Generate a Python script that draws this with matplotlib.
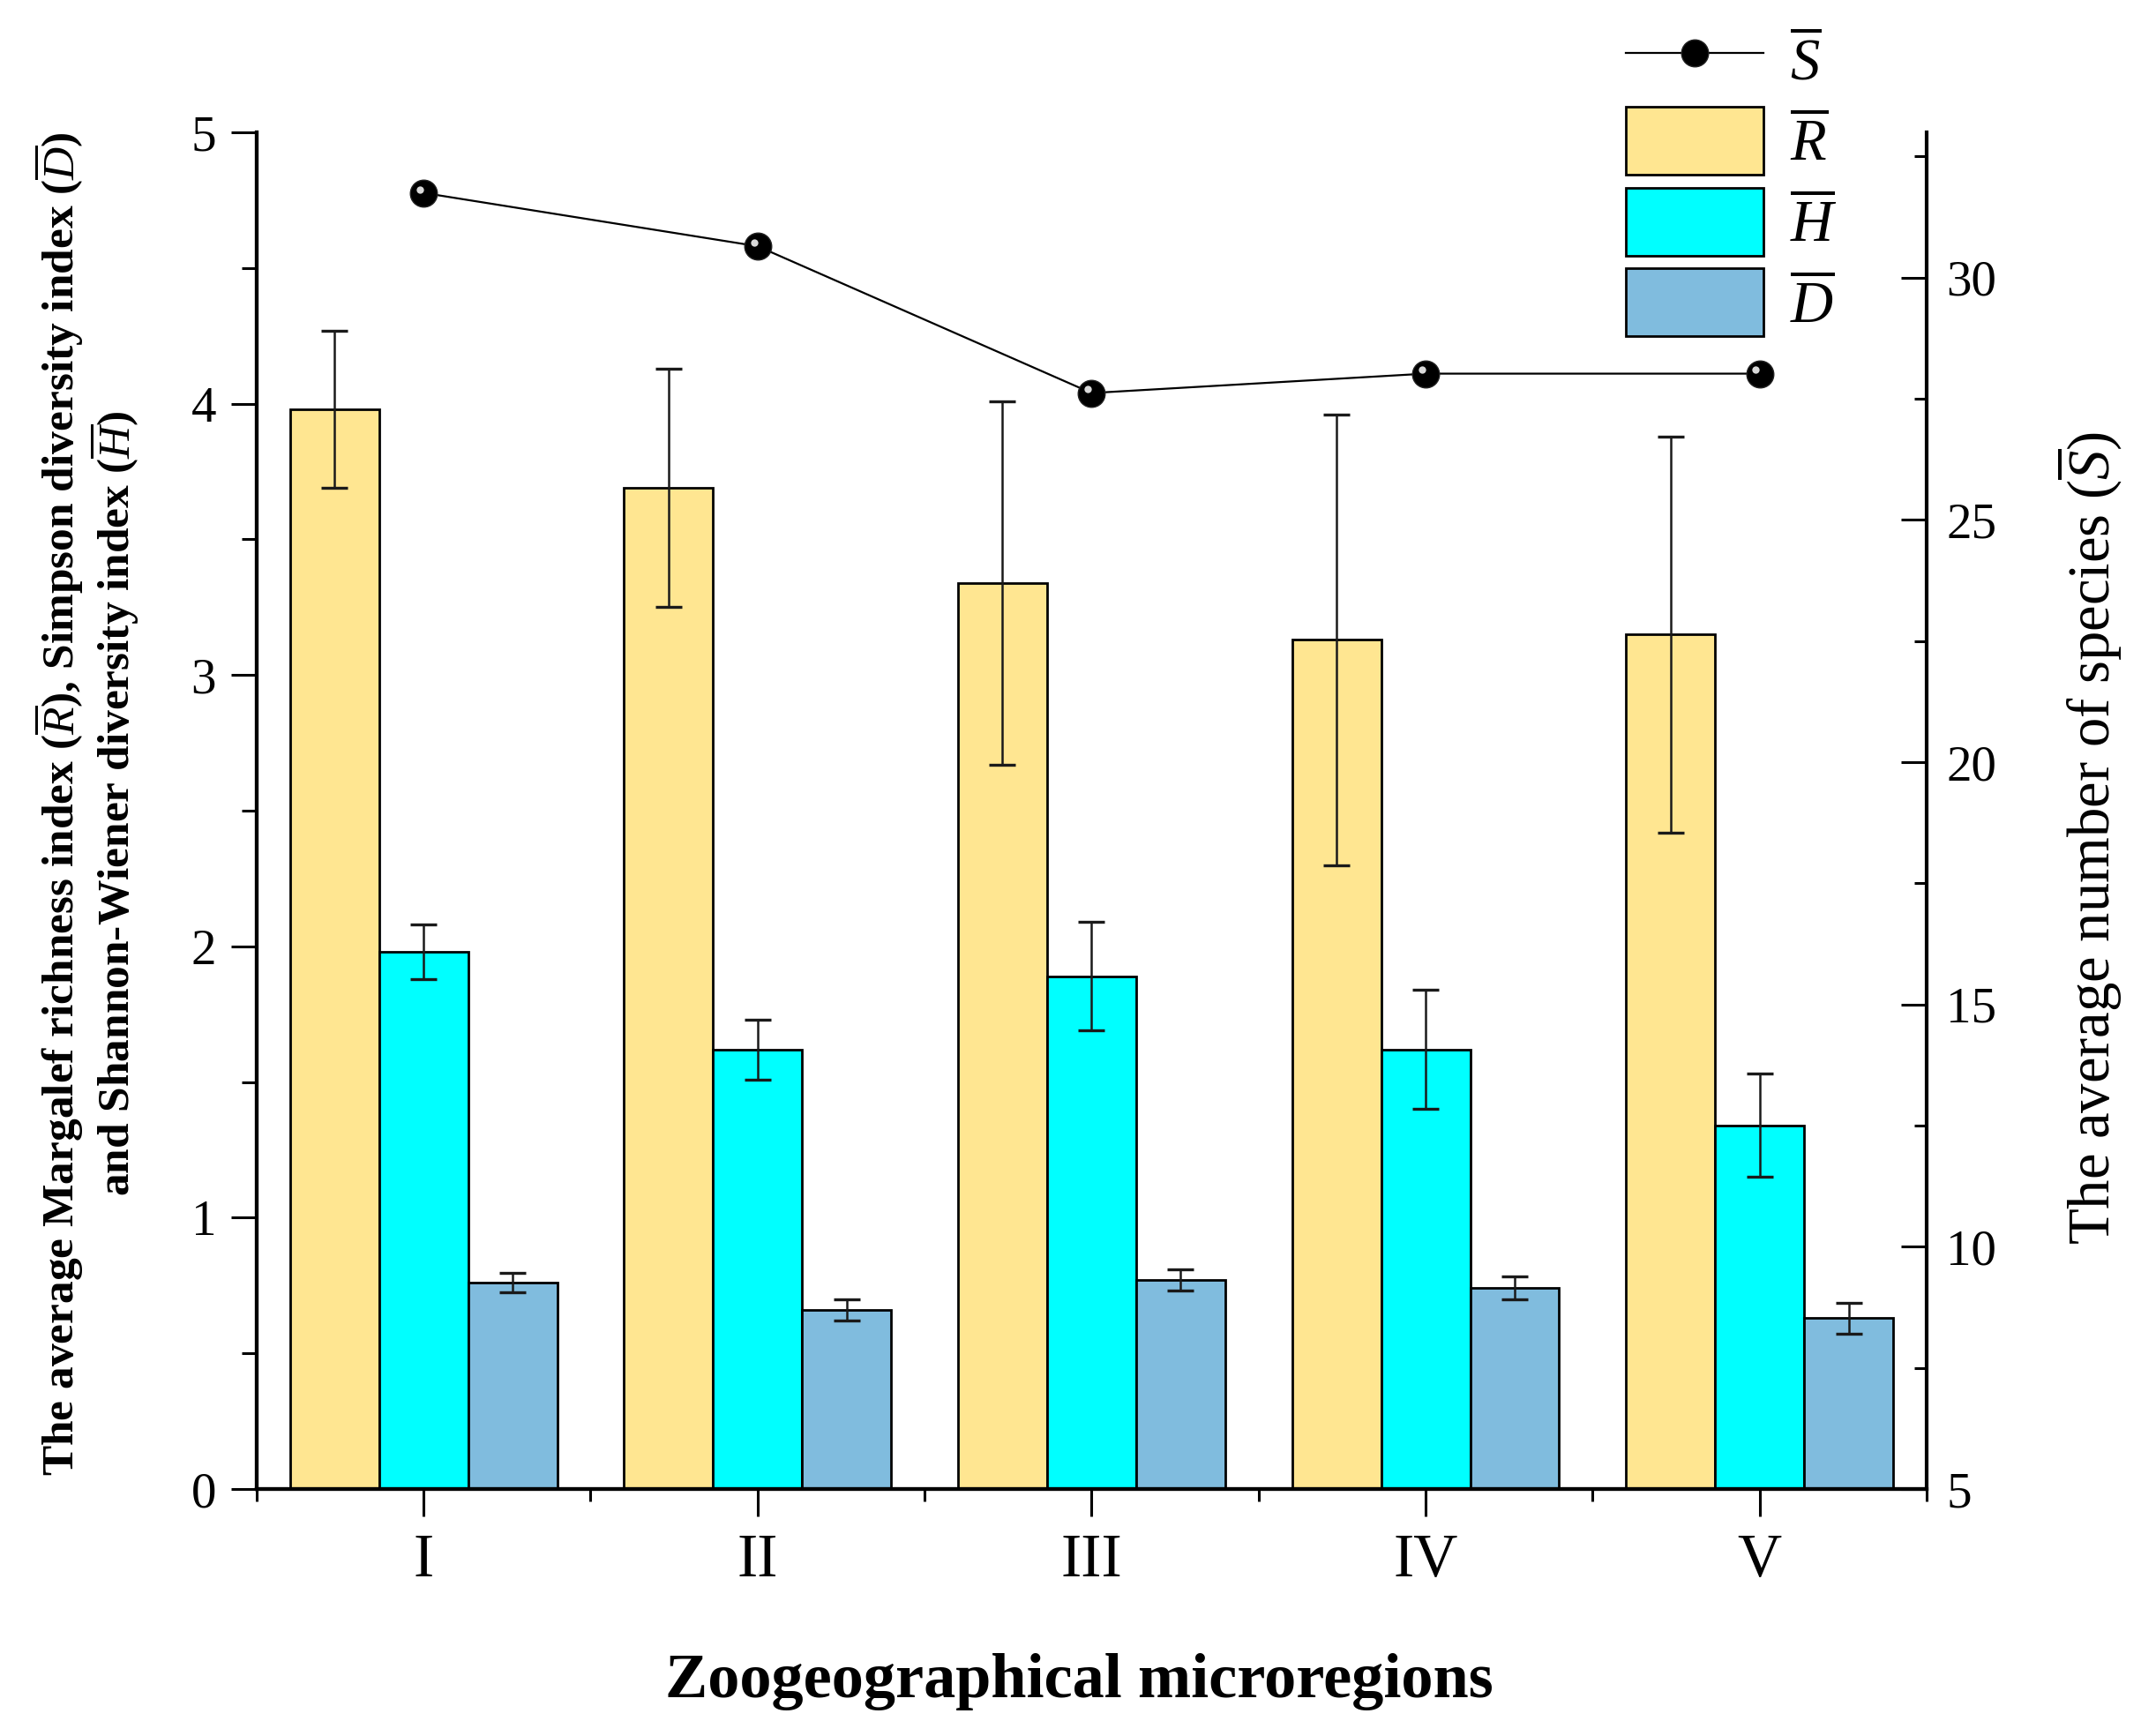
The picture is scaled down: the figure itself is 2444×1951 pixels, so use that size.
import matplotlib
matplotlib.use("Agg")
import matplotlib.pyplot as plt
from matplotlib.ticker import MultipleLocator, FixedLocator
from matplotlib.transforms import offset_copy
import numpy as np

plt.rcParams['font.family'] = ['Liberation Serif', 'DejaVu Serif']
plt.rcParams['mathtext.fontset'] = 'custom'
plt.rcParams['mathtext.rm'] = 'Liberation Serif'
plt.rcParams['mathtext.it'] = 'Liberation Serif:italic'
plt.rcParams['mathtext.bf'] = 'Liberation Serif:bold'

# ---------------- data ----------------
regions = ['I', 'II', 'III', 'IV', 'V']
R_mean = [3.98, 3.69, 3.34, 3.13, 3.15]
R_err = [0.29, 0.44, 0.67, 0.83, 0.73]
H_mean = [1.98, 1.62, 1.89, 1.62, 1.34]
H_err = [0.10, 0.11, 0.20, 0.22, 0.19]
D_mean = [0.76, 0.66, 0.77, 0.74, 0.63]
D_err = [0.035, 0.04, 0.038, 0.042, 0.057]
S_mean = [31.75, 30.65, 27.62, 28.02, 28.02]

series_labels = ['$\\overline{R}$', '$\\overline{H}$', '$\\overline{D}$']
S_label = '$\\overline{S}$'
colors = ['#FFE691', '#00FFFF', '#80BCDE']

# ---------------- figure ----------------
fig = plt.figure(figsize=(24.44, 19.51), dpi=100)
ax = fig.add_axes([0.119, 0.1348, 0.7746, 0.7883])
ax2 = ax.twinx()

x = np.arange(1, len(regions) + 1)
w = 0.8 / 3
offsets = [-w, 0, w]
bar_handles = []
for vals, errs, col, off, lab in zip([R_mean, H_mean, D_mean], [R_err, H_err, D_err],
                                     colors, offsets, series_labels):
    b = ax.bar(x + off, vals, width=w, color=col, edgecolor='black', linewidth=2.0,
               label=lab, zorder=2)
    ax.errorbar(x + off, vals, yerr=errs, fmt='none', ecolor='#1a1a1a',
                elinewidth=1.8, capsize=11, capthick=2.4, zorder=3)
    bar_handles.append(b)

line, = ax2.plot(x, S_mean, color='black', linewidth=1.6, marker='o',
                 markersize=22, markerfacecolor='black', markeredgecolor='#222222',
                 label=S_label, zorder=4)
hl_trans = offset_copy(ax2.transData, fig=fig, x=-3, y=3, units='points')
ax2.plot(x, S_mean, linestyle='none', marker='o', markersize=6,
         markerfacecolor='#d9d9d9', markeredgecolor='none', transform=hl_trans, zorder=5)

# ---------------- axes styling ----------------
ax.set_xlim(0.5, 5.5)
ax.set_ylim(0, 5)
ax2.set_ylim(5, 33)

ax.set_xticks(x)
ax.set_xticklabels(regions)
ax.xaxis.set_minor_locator(FixedLocator(np.arange(0.5, 6.0, 1.0)))
ax.yaxis.set_major_locator(MultipleLocator(1))
ax.yaxis.set_minor_locator(MultipleLocator(0.5))
ax2.yaxis.set_major_locator(MultipleLocator(5))
ax2.yaxis.set_minor_locator(MultipleLocator(2.5))

for a in (ax, ax2):
    a.spines['top'].set_visible(False)
    for s in a.spines.values():
        s.set_linewidth(3)
ax.spines['right'].set_visible(False)

ax.tick_params(axis='y', which='major', direction='out', length=21, width=2.2,
               labelsize=41, pad=12)
ax.tick_params(axis='y', which='minor', direction='out', length=12, width=2.2)
ax.tick_params(axis='x', which='major', direction='out', length=22, width=2.2,
               labelsize=50, pad=14)
ax.tick_params(axis='x', which='minor', direction='out', length=10, width=2.2)
ax2.tick_params(axis='y', which='major', direction='in', length=21, width=2.2,
                labelsize=41, pad=16)
ax2.tick_params(axis='y', which='minor', direction='in', length=10, width=2.2)

# ---------------- labels ----------------
fig.text(0.5005, 0.0138, 'Zoogeographical microregions', ha='center', va='baseline',
         fontsize=52, fontweight='bold')
fig.text(0.040, 0.533,
         'The average Margalef richness index ($\\overline{R}$), Simpson diversity index ($\\overline{D}$)\n'
         'and Shannon-Wiener diversity index ($\\overline{H}$)',
         rotation=90, ha='center', va='center', multialignment='center',
         fontsize=37, fontweight='bold', linespacing=1.05)
fig.text(0.969, 0.513, 'The average number of species ($\\overline{S}$)',
         rotation=90, ha='center', va='center', fontsize=48)

# ---------------- legend ----------------
handles = [line] + bar_handles
labels = [S_label] + series_labels
fig.legend(handles, labels, loc='upper left', bbox_to_anchor=(0.754, 0.985),
           frameon=False, fontsize=48, handlelength=2.35, handleheight=1.4,
           labelspacing=0.22, handletextpad=0.45, borderaxespad=0, borderpad=0)

fig.savefig('out.png', dpi=100)
